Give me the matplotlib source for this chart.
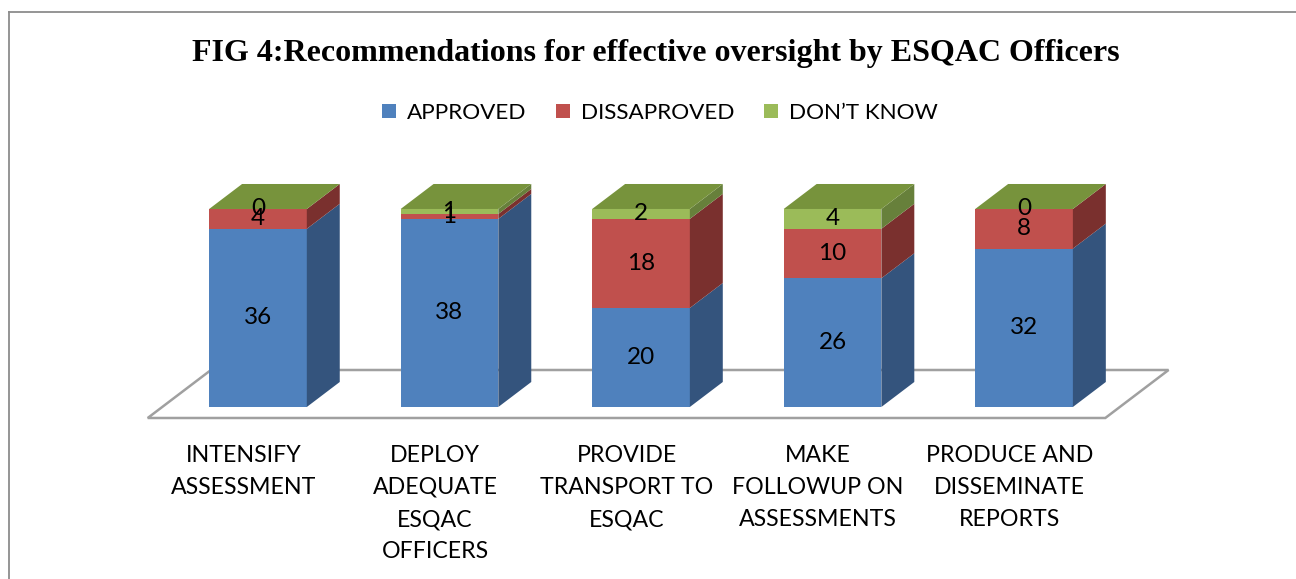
import matplotlib
matplotlib.use("Agg")
import matplotlib.pyplot as plt
from matplotlib.patches import Polygon, Patch
from matplotlib.lines import Line2D

# data
categories = ["INTENSIFY\nASSESSMENT", "DEPLOY\nADEQUATE\nESQAC\nOFFICERS",
              "PROVIDE\nTRANSPORT TO\nESQAC", "MAKE\nFOLLOWUP ON\nASSESSMENTS",
              "PRODUCE AND\nDISSEMINATE\nREPORTS"]
series_names = ["APPROVED", "DISSAPROVED", "DON\u2019T KNOW"]
approved = [36, 38, 20, 26, 32]
disapproved = [4, 1, 18, 10, 8]
dont_know = [0, 1, 2, 4, 0]

front_cols = ["#4F81BD", "#C0504D", "#9BBB59"]
side_cols = ["#34547D", "#7A302E", "#67803B"]
top_col = "#77933C"

FONT = "Lato"
FS = 16.7
W = 0.51          # bar width (category units)
DX, DY = 0.172, 5.05   # oblique depth vector in data units

fig = plt.figure(figsize=(12.96, 5.79), dpi=100)
ax = fig.add_axes([0, 0, 1, 1])
ax.set_xlim(-1.347, 5.420)
ax.set_ylim(-34.75, 82.22)
ax.axis("off")

# floor
f0, f1 = -0.44, 1.48
floor = [(-0.5 + f0 * DX, f0 * DY), (4.5 + f0 * DX, f0 * DY),
         (4.5 + f1 * DX, f1 * DY), (-0.5 + f1 * DX, f1 * DY)]
ax.add_patch(Polygon(floor, closed=True, facecolor="white", edgecolor="#A0A0A0",
                     lw=1.8, zorder=1))

stack = [approved, disapproved, dont_know]
for i in range(len(categories)):
    xl, xr = i - W / 2, i + W / 2
    bottom = 0
    for k, vals in enumerate(stack):
        v = vals[i]
        top = bottom + v
        ax.bar(i, v, W, bottom=bottom, color=front_cols[k], lw=0, zorder=3)
        side = [(xr, bottom), (xr + DX, bottom + DY), (xr + DX, top + DY), (xr, top)]
        ax.add_patch(Polygon(side, closed=True, facecolor=side_cols[k], lw=0, zorder=3))
        ax.text(i, bottom + v / 2, str(v), ha="center", va="center",
                fontsize=17.5, family=FONT, zorder=5)
        bottom = top
    lid = [(xl, bottom), (xr, bottom), (xr + DX, bottom + DY), (xl + DX, bottom + DY)]
    ax.add_patch(Polygon(lid, closed=True, facecolor=top_col, lw=0, zorder=4))
    ax.text(i + f0 * DX, -7.6, categories[i], ha="center", va="top",
            fontsize=FS, family=FONT, linespacing=1.66)

fig.text(0.506, 0.907, "FIG 4:Recommendations for effective oversight by ESQAC Officers",
         ha="center", va="center", fontsize=23, fontweight="bold",
         family="Liberation Serif")

handles = [Patch(facecolor=c, edgecolor="none") for c in front_cols]
fig.legend(handles, series_names, loc="center", bbox_to_anchor=(0.509, 0.805), ncol=3,
           frameon=False, prop={"family": FONT, "size": 16.2},
           handlelength=0.62, handleheight=0.62, handletextpad=0.5, columnspacing=1.3)

# chart border (left and top edges visible)
fig.add_artist(Line2D([0.0066, 0.0066], [0, 0.979], color="#8C8C8C", lw=1.3))
fig.add_artist(Line2D([0.0066, 1], [0.979, 0.979], color="#8C8C8C", lw=1.3))

fig.savefig("out.png", dpi=100, facecolor="white")
